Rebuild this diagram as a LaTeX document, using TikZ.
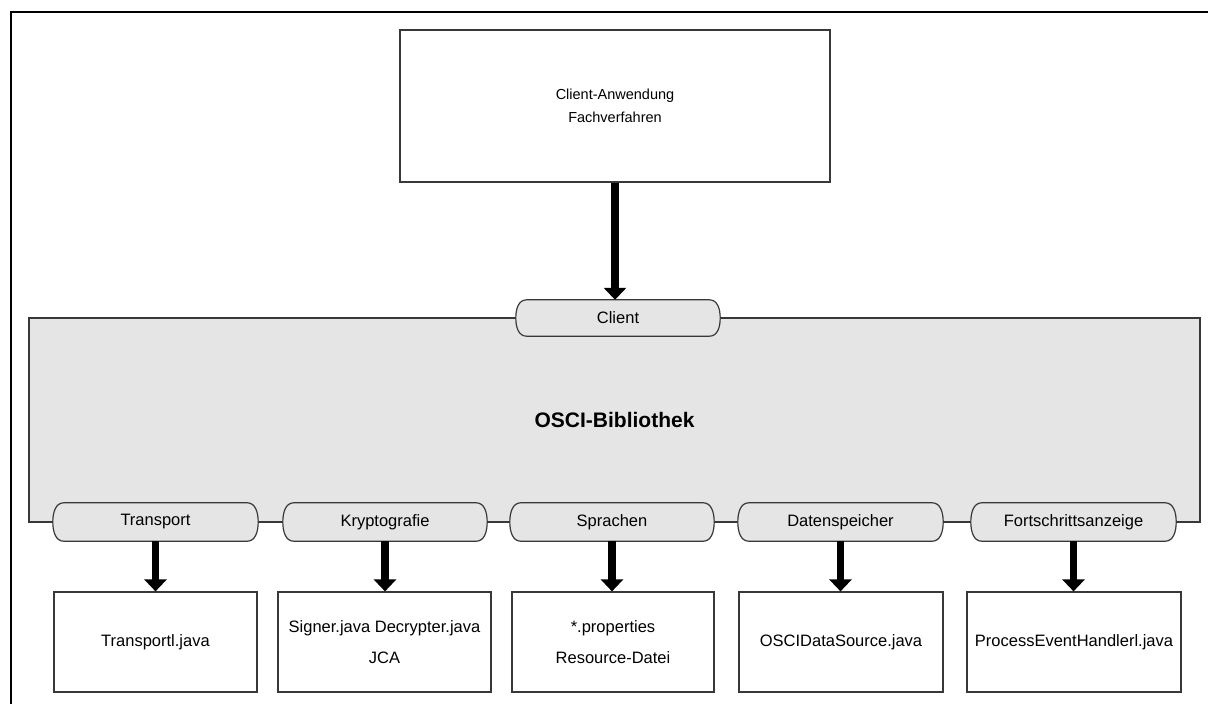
\documentclass[tikz,border=0pt]{standalone}
\usepackage{fontspec}
\setmainfont{Liberation Sans}
\usetikzlibrary{arrows.meta,calc}
\definecolor{edge}{HTML}{383838}
\definecolor{panel}{HTML}{E5E5E5}
\pgfdeclarelayer{bg}
\pgfsetlayers{bg,main}
\begin{document}
\begin{tikzpicture}[x=1pt,y=-1pt,
  box/.style={draw=edge,line width=1.2pt,fill=white,inner sep=0pt,align=center,
    font=\fontsize{16.5}{31}\selectfont},
  libbox/.style={draw=edge,line width=1.2pt,fill=panel,inner sep=0pt,
    minimum width=1171pt,minimum height=204pt,font=\fontsize{21}{24}\selectfont\bfseries},
  pill/.style={inner sep=0pt,minimum width=205pt,minimum height=38pt,
    font=\fontsize{16.5}{18}\selectfont},
  pilledge/.style={draw=edge,line width=1.2pt,fill=panel},
  bigarrow/.style={line width=7.5pt,-{Triangle[width=22pt,length=12pt]}}]
\useasboundingbox (0,0) rectangle (1208,704);

% outer frame (top and left edges)
\draw[line width=2.2pt] (11,704) -- (11,12) -- (1208,12);

% library panel
\begin{pgfonlayer}{bg}
\node[libbox] (lib) at (614.5,420) {OSCI-Bibliothek};
\end{pgfonlayer}

% client application
\node[box,minimum width=430pt,minimum height=152pt,
  font=\fontsize{14.5}{23}\selectfont] (app) at (615,106)
  {Client-Anwendung\\Fachverfahren};

% interface pills
\node[pill,minimum width=204pt,minimum height=36pt] (client) at (618,318) {Client};
\node[pill] (transport) at (155.5,522) {Transport};
\node[pill,minimum width=204pt] (krypto) at (385,522) {Kryptografie};
\node[pill,minimum width=204pt] (sprachen) at (612,522) {Sprachen};
\node[pill] (daten) at (840.5,522) {Datenspeicher};
\node[pill] (fort) at (1073.5,522) {Fortschrittsanzeige};

\begin{pgfonlayer}{bg}
\foreach \n in {client,transport,krypto,sprachen,daten,fort}{
  \draw[pilledge]
    ([xshift=11pt]\n.north west) -- ([xshift=-11pt]\n.north east)
    .. controls ([xshift=-3pt]\n.north east) and ([yshift=10pt]\n.east) .. (\n.east)
    .. controls ([yshift=-10pt]\n.east) and ([xshift=-3pt]\n.south east) .. ([xshift=-11pt]\n.south east)
    -- ([xshift=11pt]\n.south west)
    .. controls ([xshift=3pt]\n.south west) and ([yshift=-10pt]\n.west) .. (\n.west)
    .. controls ([yshift=10pt]\n.west) and ([xshift=3pt]\n.north west) .. cycle;
}
\end{pgfonlayer}

% implementation boxes
\node[box,minimum width=203pt,minimum height=100pt] (t1) at (155.5,642) {Transportl.java};
\node[box,minimum width=213pt,minimum height=100pt] (k1) at (384.5,642) {Signer.java Decrypter.java\\JCA};
\node[box,minimum width=202pt,minimum height=100pt] (s1) at (613,642) {*.properties\\Resource-Datei};
\node[box,minimum width=204pt,minimum height=100pt] (d1) at (841,642) {OSCIDataSource.java};
\node[box,minimum width=214pt,minimum height=100pt] (f1) at (1074,642) {ProcessEventHandlerl.java};

% arrows
\draw[bigarrow] (app.south) -- (app.south |- client.north);
\draw[bigarrow] (transport.south) -- (transport.south |- t1.north);
\draw[bigarrow] (krypto.south) -- (krypto.south |- k1.north);
\draw[bigarrow] (sprachen.south) -- (sprachen.south |- s1.north);
\draw[bigarrow] (daten.south) -- (daten.south |- d1.north);
\draw[bigarrow] (fort.south) -- (fort.south |- f1.north);
\end{tikzpicture}
\end{document}
